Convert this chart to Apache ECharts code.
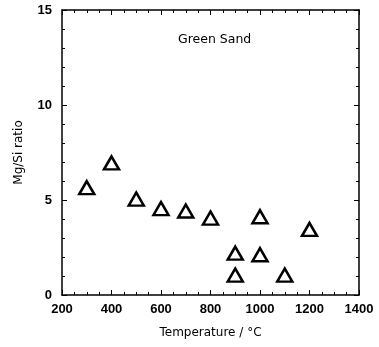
<!DOCTYPE html>
<html>
<head>
<meta charset="utf-8">
<script src="https://cdn.jsdelivr.net/npm/echarts@6/dist/echarts.min.js"></script>
<style>
  html, body { margin: 0; padding: 0; background: #fff; }
  #chart { width: 379px; height: 347px; }
</style>
</head>
<body>
<div id="chart"></div>
<script>
// measured points (temperature, Mg/Si)
const temps = [300, 400, 500, 600, 700, 800, 900, 900, 1000, 1000, 1100, 1200];
const ratios = [5.65, 6.95, 5.05, 4.55, 4.42, 4.05, 2.2, 1.05, 4.12, 2.12, 1.05, 3.45];
const titleText = 'Green Sand';
const xName = 'Temperature / °C';
const yName = 'Mg/Si ratio';

const chart = echarts.init(document.getElementById('chart'));
const font = 'DejaVu Sans, sans-serif';
const tickFont = 'Liberation Sans, Arial, sans-serif';

function frameAxis(pos, opts) {
    return Object.assign({
        type: 'value',
        position: pos,
        axisLine: { show: true, onZero: false, lineStyle: { color: '#000', width: 1.5 } },
        axisTick: { show: true, inside: true, length: 5, lineStyle: { color: '#000', width: 1 } },
        splitLine: { show: false },
        axisLabel: { show: false }
    }, opts);
}

const xRange = { min: 200, max: 1400, interval: 200 };
const yRange = { min: 0, max: 15, interval: 5 };
const plain = v => String(v);

chart.setOption({
    animation: false,
    title: {
        text: titleText, left: 173, top: 28,
        textStyle: { fontFamily: font, fontSize: 12.5, fontWeight: 'normal', color: '#000' }
    },
    grid: { left: 62, right: 20, top: 10, bottom: 52 },
    xAxis: [
        frameAxis('bottom', Object.assign({}, xRange, {
            name: xName, nameLocation: 'middle', nameGap: 32,
            nameTextStyle: { fontFamily: font, fontSize: 12, color: '#000' },
            minorTick: { show: true, splitNumber: 4, length: 3, lineStyle: { color: '#000' } },
            axisLabel: { show: true, margin: 8, fontFamily: tickFont, fontSize: 13, fontWeight: 'bold', color: '#000', formatter: plain }
        })),
        frameAxis('top', Object.assign({}, xRange, {
            minorTick: { show: true, splitNumber: 4, length: 3, lineStyle: { color: '#000' } }
        }))
    ],
    yAxis: [
        frameAxis('left', Object.assign({}, yRange, {
            name: yName, nameLocation: 'middle', nameGap: 37,
            nameTextStyle: { fontFamily: font, fontSize: 12, color: '#000' },
            minorTick: { show: true, splitNumber: 5, length: 3, lineStyle: { color: '#000' } },
            axisLabel: { show: true, margin: 10, fontFamily: tickFont, fontSize: 13, fontWeight: 'bold', color: '#000', formatter: plain }
        })),
        frameAxis('right', Object.assign({}, yRange, {
            minorTick: { show: true, splitNumber: 5, length: 3, lineStyle: { color: '#000' } }
        }))
    ],
    series: [{
        type: 'scatter',
        data: temps.map((t, i) => [t, ratios[i]]),
        symbol: 'triangle',
        symbolSize: [15, 13],
        itemStyle: { color: '#fff', borderColor: '#000', borderWidth: 2.5, opacity: 1 }
    }]
});
</script>
</body>
</html>
